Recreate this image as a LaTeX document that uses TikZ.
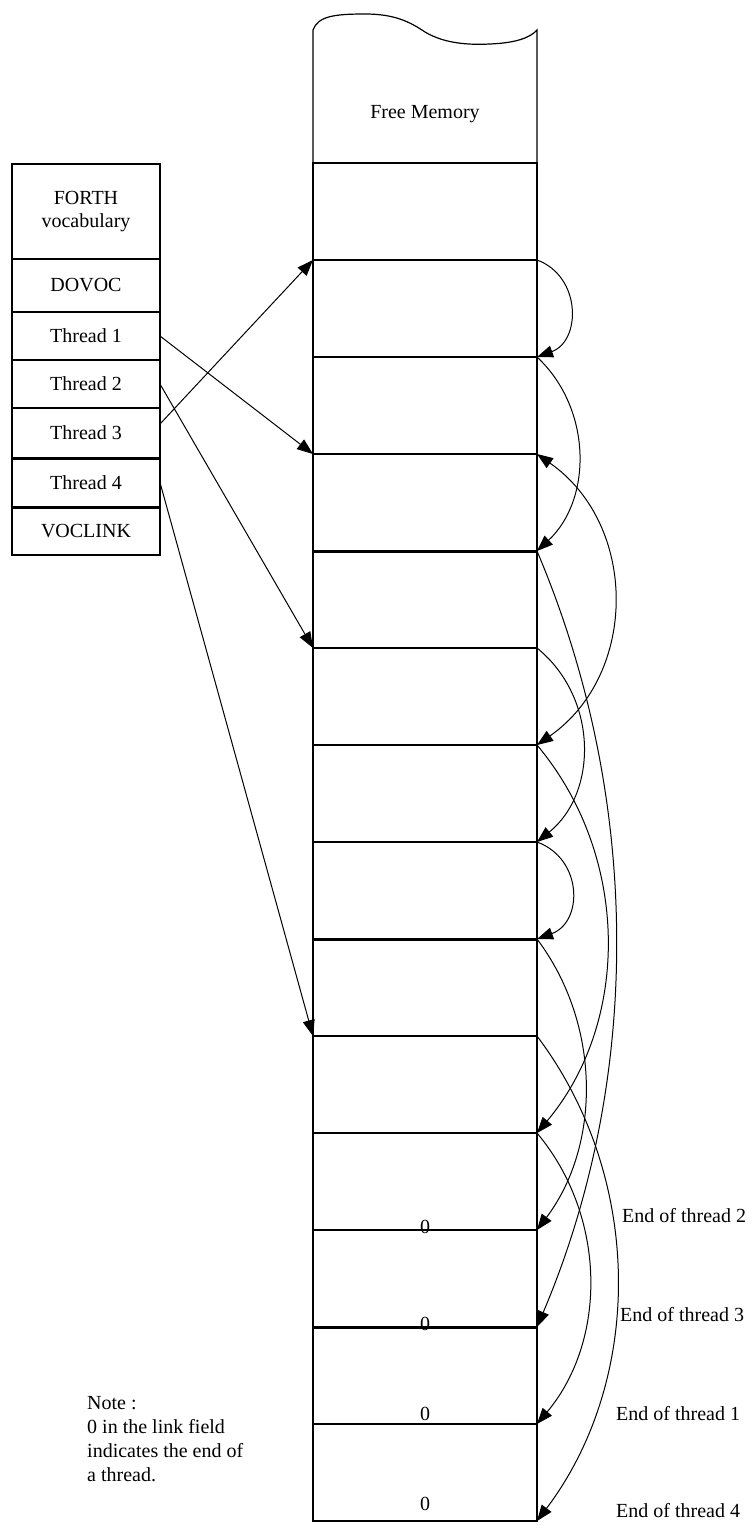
\documentclass[tikz,border=0pt]{standalone}
\usepackage{fontspec}
\setmainfont{Liberation Serif}
\usetikzlibrary{positioning,arrows.meta}

\begin{document}
\begin{tikzpicture}[
				memcell/.style={rectangle, draw=black, line width=1.2pt, minimum width=224pt, minimum height=97pt, inner sep=0pt, outer sep=0pt},
				vocbox/.style={rectangle, draw=black, line width=1.2pt, minimum width=148pt, inner sep=0pt, outer sep=0pt, align=center, font=\fontsize{20}{23}\selectfont},
				txt/.style={rectangle, inner sep=0pt, font=\fontsize{20}{24}\selectfont},
				boldline/.style={line width=3pt},
				link/.style={line width=1pt, -{Triangle[length=16pt,width=12pt]}}
			]
			\useasboundingbox (0,0) rectangle (754pt,-1531pt);
			% memory column
			\node[memcell] (c1) at (425pt,-211.5pt) {};
			\node[memcell] (c2) [below=0pt of c1] {};
			\node[memcell] (c3) [below=0pt of c2] {};
			\node[memcell] (c4) [below=0pt of c3] {};
			\node[memcell] (c5) [below=0pt of c4] {};
			\node[memcell] (c6) [below=0pt of c5] {};
			\node[memcell] (c7) [below=0pt of c6] {};
			\node[memcell] (c8) [below=0pt of c7] {};
			\node[memcell] (c9) [below=0pt of c8] {};
			\node[memcell] (c10) [below=0pt of c9] {};
			\node[memcell] (c11) [below=0pt of c10] {};
			\node[memcell] (c12) [below=0pt of c11] {};
			\node[memcell] (c13) [below=0pt of c12] {};
			\node[memcell] (c14) [below=0pt of c13] {};
			\node[txt] (freemem) [above=40pt of c1] {Free Memory};
			\draw[line width=1.2pt] (c1.north west) -- (313pt,-30pt)
				.. controls (318pt,-16pt) and (335pt,-14pt) .. (365pt,-14pt)
				.. controls (395pt,-14pt) and (410pt,-22pt) .. (425pt,-32pt)
				.. controls (445pt,-44pt) and (470pt,-45pt) .. (490pt,-44pt)
				.. controls (515pt,-43pt) and (530pt,-38pt) .. (537pt,-30pt) -- (c1.north east);
			% end markers
			\node[txt, anchor=base] (z11) at ([yshift=-3pt]c11.south) {0};
			\node[txt, anchor=base] (z12) at ([yshift=-3pt]c12.south) {0};
			\node[txt, anchor=base] (z13) at ([yshift=4pt]c13.south) {0};
			\node[txt, anchor=base] (z14) at ([yshift=11pt]c14.south) {0};
			\draw[boldline] (c5.north west) -- (c5.north east);
			\draw[boldline] (c9.north west) -- (c9.north east);
			\draw[boldline] (c13.north west) -- (c13.north east);
			\node[txt, anchor=base west] (end2) at ([xshift=85pt,yshift=8pt]c11.south east) {End of thread 2};
			\node[txt, anchor=base west] (end3) at ([xshift=83pt,yshift=6pt]c12.south east) {End of thread 3};
			\node[txt, anchor=base west] (end1) at ([xshift=79pt,yshift=4pt]c13.south east) {End of thread 1};
			\node[txt, anchor=base west] (end4) at ([xshift=79pt,yshift=4pt]c14.south east) {End of thread 4};
			% vocabulary header
			\node[vocbox, minimum height=95pt] (forth) at (86pt,-211.5pt) {FORTH\\vocabulary};
			\node[vocbox, minimum height=53pt] (dovoc) [below=0pt of forth] {DOVOC};
			\node[vocbox, minimum height=48pt] (thr1) [below=0pt of dovoc] {Thread 1};
			\node[vocbox, minimum height=48pt] (thr2) [below=0pt of thr1] {Thread 2};
			\node[vocbox, minimum height=50pt] (thr3) [below=0pt of thr2] {Thread 3};
			\node[vocbox, minimum height=49pt] (thr4) [below=0pt of thr3] {Thread 4};
			\node[vocbox, minimum height=48pt] (voclink) [below=0pt of thr4] {VOCLINK};
			\draw[boldline] (thr4.north west) -- (thr4.north east);
			\draw[boldline] (voclink.north west) -- (voclink.north east);
			\node[txt, anchor=north west, align=left] (note) at (87pt,-1396pt) {Note :\\0 in the link field\\indicates the end of\\a thread.};
			% thread heads
			\draw[link] ([yshift=9pt]thr3.east) -- (c1.south west);
			\draw[link] (thr1.east) -- (c3.south west);
			\draw[link] (thr2.east) -- (c5.south west);
			\draw[link] (thr4.east) -- (c9.south west);
			% link fields
			\draw[link] (c1.south east) to[bend left=70, looseness=1.25] (c2.south east);
			\draw[link] (c2.south east) to[bend left=47] (c4.south east);
			\draw[link, {Triangle[length=16pt,width=12pt]}-{Triangle[length=16pt,width=12pt]}] (c3.south east) to[bend left=55, looseness=1.09] (c6.south east);
			\draw[link] (c4.south east) to[bend left=23, looseness=0.89] (c12.south east);
			\draw[link] (c5.south east) to[bend left=51, looseness=1.04] (c7.south east);
			\draw[link] (c6.south east) to[bend left=40, looseness=0.96] (c10.south east);
			\draw[link] (c7.south east) to[bend left=70, looseness=1.3] (c8.south east);
			\draw[link] (c8.south east) to[bend left=37, looseness=0.94] (c11.south east);
			\draw[link] (c9.south east) to[bend left=37, looseness=0.94] (c14.south east);
			\draw[link] (c10.south east) to[bend left=40, looseness=0.96] (c13.south east);
\end{tikzpicture}
\end{document}
